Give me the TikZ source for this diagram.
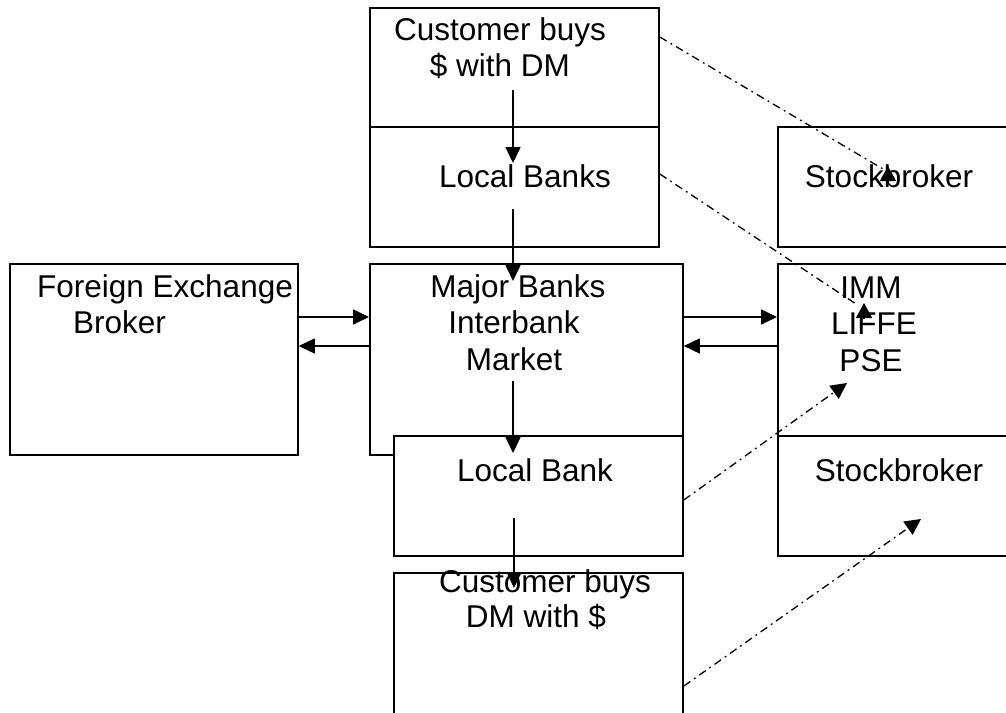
\documentclass[tikz,border=0pt]{standalone}
\usepackage{fontspec}
\setmainfont{Liberation Sans}
\usetikzlibrary{arrows.meta}
\begin{document}
\begin{tikzpicture}[x=1pt,y=-1pt,
  box/.style={draw, fill=white, line width=1.8pt, rectangle, anchor=north west, inner sep=0pt},
  txt/.style={anchor=base, inner sep=0pt, font=\fontsize{31.5}{36}\selectfont},
  txtl/.style={txt, anchor=base west},
  arr/.style={line width=1.6pt, -{Triangle[length=16pt,width=15pt]}},
  dd/.style={line width=1.3pt, dash pattern=on 8pt off 4.5pt on 1.8pt off 4.5pt},
  tipup/.style={line width=1.2pt, -{Triangle[length=15pt,width=16pt]}},
  ddarr/.style={dd, -{Triangle[length=16pt,width=16pt]}}]
\clip (0,0) rectangle (1006,712);
\fill[white] (0,0) rectangle (1006,712);
% boxes
\node[box, minimum width=289pt, minimum height=119pt] (cust1) at (369,7) {};
\node[box, minimum width=289pt, minimum height=120pt] (lbanks) at (369,126) {};
\node[box, minimum width=260pt, minimum height=120pt] (sb1) at (777,126) {};
\node[box, minimum width=288pt, minimum height=191pt] (fx) at (9,263) {};
\node[box, minimum width=313pt, minimum height=191pt] (major) at (369,263) {};
\node[box, minimum width=260pt, minimum height=172pt] (imm) at (777,263) {};
\node[box, minimum width=289pt, minimum height=120pt] (lbank) at (393,435) {};
\node[box, minimum width=260pt, minimum height=120pt] (sb2) at (777,435) {};
\node[box, minimum width=289pt, minimum height=160pt] (cust2) at (393,572) {};
% texts
\node[txt] (t1a) at (500,40) {Customer buys};
\node[txt] (t1b) at (500,76) {\$ with DM};
\node[txt] (t2) at (525,187) {Local Banks};
\node[txt] (t3) at (889,187) {Stockbroker};
\node[txtl] (t4a) at (37,297) {Foreign Exchange};
\node[txtl] (t4b) at (73,333) {Broker};
\node[txt] (t5a) at (518,297) {Major Banks};
\node[txt] (t5b) at (514,333) {Interbank};
\node[txt] (t5c) at (514,370) {Market};
\node[txt] (t6a) at (871,298) {IMM};
\node[txt] (t6b) at (874,334) {LIFFE};
\node[txt] (t6c) at (871,371) {PSE};
\node[txt] (t7) at (535,481) {Local Bank};
\node[txt] (t8) at (899,481) {Stockbroker};
\node[txt] (t9a) at (545,592) {Customer buys};
\node[txt] (t9b) at (536,627) {DM with \$};
% vertical arrows
\coordinate (a1s) at (513,90);  \coordinate (a1e) at (513,163);
\coordinate (a2s) at (513,209); \coordinate (a2e) at (513,281);
\coordinate (a3s) at (513,381); \coordinate (a3e) at (513,453);
\coordinate (a4s) at (514,518); \coordinate (a4e) at (514,588);
\draw[arr] (a1s) -- (a1e);
\draw[arr] (a2s) -- (a2e);
\draw[arr] (a3s) -- (a3e);
\draw[arr] (a4s) -- (a4e);
% horizontal arrows
\draw[arr] (fx.east |- 0,317) -- (major.west |- 0,317);
\draw[arr] (major.west |- 0,346) -- (fx.east |- 0,346);
\draw[arr] (major.east |- 0,317) -- (imm.west |- 0,317);
\draw[arr] (imm.west |- 0,346) -- (major.east |- 0,346);
% dash-dot connectors
\coordinate (d1e) at (883,169); \coordinate (d1b) at (888,181); \coordinate (d1t) at (888,166);
\coordinate (d2e) at (856,304); \coordinate (d2b) at (864,318); \coordinate (d2t) at (864,303);
\draw[dd] (cust1.east |- 0,37) -- (d1e);
\draw[tipup] (d1b) -- (d1t);
\draw[dd] (lbanks.east |- 0,174) -- (d2e);
\draw[tipup] (d2b) -- (d2t);
\coordinate (d3e) at (847,383);
\coordinate (d4e) at (921,519);
\draw[ddarr] (lbank.east |- 0,500) -- (d3e);
\draw[ddarr] (cust2.east |- 0,686) -- (d4e);
\end{tikzpicture}
\end{document}
